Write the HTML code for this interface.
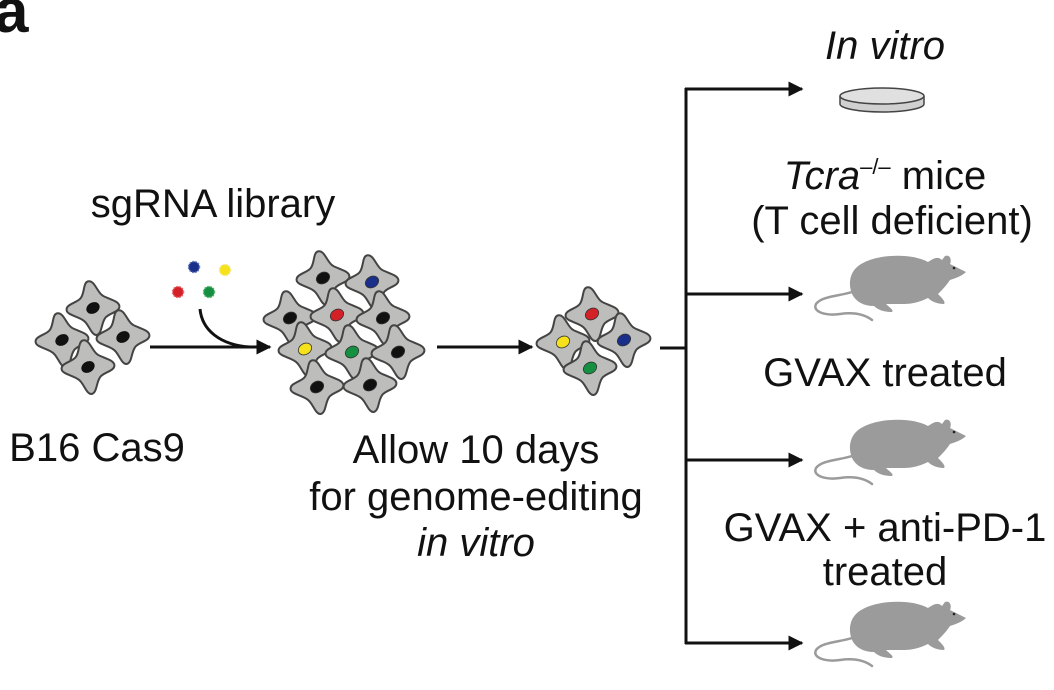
<!DOCTYPE html>
<html><head><meta charset="utf-8"><style>
html,body{margin:0;padding:0;background:#fff;width:1054px;height:690px;overflow:hidden}
svg{display:block}
text{font-family:"Liberation Sans",sans-serif;fill:#111}
</style></head><body>
<svg width="1054" height="690" viewBox="0 0 1054 690">
<defs>
<g id="cell">
<path d="M2,-27 C9,-27 8,-13 13,-9 C17,-5 27,0 26,5 C25,11 13,9 9,13 C4,17 2,27 -3,27 C-9,27 -8,13 -13,9 C-17,4 -27,0 -26,-5 C-25,-11 -13,-9 -9,-13 C-4,-17 -3,-27 2,-27Z" fill="#bdbdbb" stroke="#444" stroke-width="2" transform="rotate(-15)"/>
</g>
<g id="mouse">
<path d="M36,10 C50,-4 90,-6 108,4 C114,0 118,-2 122,2 L125,-2 C130,-4 132,2 130,6 L146,14 C142,18 136,20 130,22 C126,28 122,32 118,36 C122,40 126,44 124,46 C118,46 112,44 108,40 C100,44 92,46 84,46 L66,46 C70,50 74,52 72,54 C64,54 58,52 54,48 C44,48 36,44 32,36 C28,26 30,16 36,10Z" fill="#9b9b9b"/>
<path d="M32,34 C20,38 2,38 -4,46 C-8,54 6,58 20,56 C34,54 44,56 52,62" fill="none" stroke="#9b9b9b" stroke-width="2.5" stroke-linecap="round"/>
<circle cx="134" cy="10" r="1.3" fill="#222"/>
</g>
<marker id="ah" viewBox="0 0 10 10" refX="9" refY="5" markerWidth="5" markerHeight="5" orient="auto" markerUnits="strokeWidth"><path d="M0,0 L10,5 L0,10Z" fill="#111"/></marker>
</defs>
<text x="-6" y="32" font-size="62" font-weight="bold">a</text>

<use href="#cell" x="93" y="308"/><use href="#cell" x="62" y="340"/><use href="#cell" x="123" y="337"/><use href="#cell" x="88" y="367"/>
<g fill="#111"><ellipse cx="93" cy="308" rx="7" ry="5.5" transform="rotate(-30 93 308)"/><ellipse cx="62" cy="340" rx="7" ry="5.5" transform="rotate(-30 62 340)"/><ellipse cx="123" cy="337" rx="7" ry="5.5" transform="rotate(-30 123 337)"/><ellipse cx="88" cy="367" rx="7" ry="5.5" transform="rotate(-30 88 367)"/></g>

<g stroke-dasharray="1.5 1.5" stroke-width="1.5">
<circle cx="194" cy="267" r="5.5" fill="#1a2f8a" stroke="#6677bb"/>
<circle cx="225" cy="270" r="5.5" fill="#f5e21a" stroke="#f5e880"/>
<circle cx="178" cy="292" r="5.5" fill="#d42027" stroke="#e07070"/>
<circle cx="209" cy="292" r="5.5" fill="#149040" stroke="#60b070"/>
</g>
<path d="M200,309 C202,330 220,345 250,347" fill="none" stroke="#111" stroke-width="3"/>
<line x1="150" y1="347" x2="270" y2="347" stroke="#111" stroke-width="3" marker-end="url(#ah)"/>

<g>
<use href="#cell" x="323" y="278"/><use href="#cell" x="372" y="282"/><use href="#cell" x="290" y="318"/><use href="#cell" x="337" y="315"/><use href="#cell" x="383" y="318"/><use href="#cell" x="305" y="349"/><use href="#cell" x="352" y="352"/><use href="#cell" x="398" y="352"/><use href="#cell" x="317" y="387"/><use href="#cell" x="370" y="385"/>
</g>
<g stroke="#333" stroke-width="0.8">
<ellipse cx="323" cy="278" rx="7" ry="5.5" fill="#111" transform="rotate(-30 323 278)"/>
<ellipse cx="372" cy="282" rx="7" ry="5.5" fill="#1a2f8a" transform="rotate(-30 372 282)"/>
<ellipse cx="290" cy="318" rx="7" ry="5.5" fill="#111" transform="rotate(-30 290 318)"/>
<ellipse cx="337" cy="315" rx="7" ry="5.5" fill="#d42027" transform="rotate(-30 337 315)"/>
<ellipse cx="383" cy="318" rx="7" ry="5.5" fill="#111" transform="rotate(-30 383 318)"/>
<ellipse cx="305" cy="349" rx="7" ry="5.5" fill="#f5e21a" transform="rotate(-30 305 349)"/>
<ellipse cx="352" cy="352" rx="7" ry="5.5" fill="#149040" transform="rotate(-30 352 352)"/>
<ellipse cx="398" cy="352" rx="7" ry="5.5" fill="#111" transform="rotate(-30 398 352)"/>
<ellipse cx="317" cy="387" rx="7" ry="5.5" fill="#111" transform="rotate(-30 317 387)"/>
<ellipse cx="370" cy="385" rx="7" ry="5.5" fill="#111" transform="rotate(-30 370 385)"/>
</g>
<line x1="437" y1="347" x2="532" y2="347" stroke="#111" stroke-width="3" marker-end="url(#ah)"/>

<use href="#cell" x="592" y="314"/><use href="#cell" x="563" y="342"/><use href="#cell" x="624" y="340"/><use href="#cell" x="590" y="368"/>
<g stroke="#333" stroke-width="0.8">
<ellipse cx="592" cy="314" rx="7" ry="5.5" fill="#d42027" transform="rotate(-30 592 314)"/>
<ellipse cx="563" cy="342" rx="7" ry="5.5" fill="#f5e21a" transform="rotate(-30 563 342)"/>
<ellipse cx="624" cy="340" rx="7" ry="5.5" fill="#1a2f8a" transform="rotate(-30 624 340)"/>
<ellipse cx="590" cy="368" rx="7" ry="5.5" fill="#149040" transform="rotate(-30 590 368)"/>
</g>

<g stroke="#111" stroke-width="3" fill="none">
<line x1="660" y1="348" x2="686" y2="348"/>
<line x1="686" y1="88" x2="686" y2="644"/>
<line x1="685" y1="89" x2="802" y2="89" marker-end="url(#ah)"/>
<line x1="685" y1="294" x2="802" y2="294" marker-end="url(#ah)"/>
<line x1="685" y1="460" x2="802" y2="460" marker-end="url(#ah)"/>
<line x1="685" y1="643" x2="802" y2="643" marker-end="url(#ah)"/>
</g>

<path d="M840,96 L840,104 A42,8 0 0 0 924,104 L924,96" fill="#d0d0d0" stroke="#444" stroke-width="1.5"/>
<ellipse cx="882" cy="96" rx="42" ry="8" fill="#e0e0e0" stroke="#444" stroke-width="1.5"/>

<use href="#mouse" x="820" y="258"/>
<use href="#mouse" x="820" y="422"/>
<use href="#mouse" x="820" y="604"/>

<g font-size="40" text-anchor="middle">
<text x="885" y="59" font-style="italic">In vitro</text>
<text x="885" y="189"><tspan font-style="italic">Tcra</tspan><tspan font-size="22" dy="-15">–/–</tspan><tspan dy="15"> mice</tspan></text>
<text x="892" y="234">(T cell deficient)</text>
<text x="885" y="386">GVAX treated</text>
<text x="885" y="541">GVAX + anti-PD-1</text>
<text x="885" y="585">treated</text>
<text x="213" y="217">sgRNA library</text>
<text x="476" y="463">Allow 10 days</text>
<text x="476" y="510">for genome-editing</text>
<text x="476" y="556" font-style="italic">in vitro</text>
<text x="97" y="461">B16 Cas9</text>
</g>
</svg>
</body></html>
